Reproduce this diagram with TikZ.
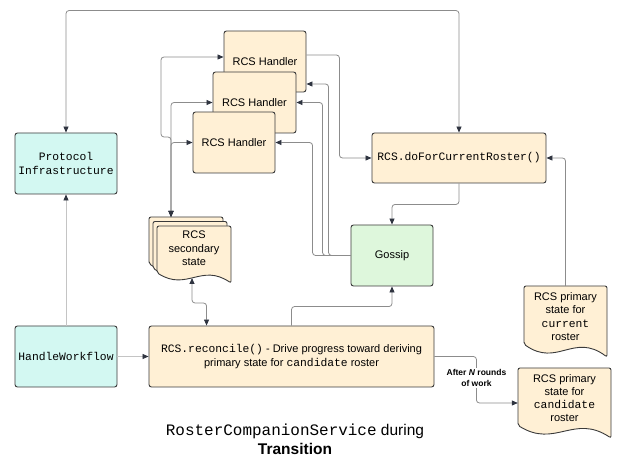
\documentclass[tikz,border=0pt]{standalone}
\usepackage{fontspec}
\setmainfont{Liberation Sans}
\setmonofont[Scale=1.03]{Liberation Mono}
\usetikzlibrary{arrows.meta,calc}
\definecolor{boxline}{HTML}{3A3A3A}
\definecolor{yel}{HTML}{FFF0D5}
\definecolor{cya}{HTML}{D3F8F2}
\definecolor{grn}{HTML}{DEF7DC}
\definecolor{conncol}{HTML}{8C8C8C}
\definecolor{lightconn}{HTML}{C4C4C4}
\definecolor{tipcol}{HTML}{2F3440}
\newcommand{\docshape}[5][]{%
  \draw[docline,#1] (#2,{#3+0.82*(#5-#3)}) -- (#2,#3) -- (#4,#3) -- (#4,#5)
    .. controls ({#2+0.6*(#4-#2)},{#3+0.65*(#5-#3)}) and ({#2+0.4*(#4-#2)},{#3+1.15*(#5-#3)}) .. (#2,{#3+0.82*(#5-#3)}) -- cycle;}
\tikzset{rtip/.tip={Triangle[length=6pt,width=5pt,color=tipcol]}}
\begin{document}
\begin{tikzpicture}[x=1pt,y=-1pt,
  box/.style={draw=boxline, line width=0.9pt, rounded corners=2.5pt, inner sep=2pt, align=center, font=\fontsize{11}{13.5}\selectfont},
  ybox/.style={box, fill=yel},
  cbox/.style={box, fill=cya},
  gbox/.style={box, fill=grn},
  docline/.style={draw=boxline, line width=0.9pt, fill=yel, rounded corners=2pt},
  doctext/.style={draw=none, inner sep=0pt, align=center, font=\fontsize{11}{13.2}\selectfont},
  conn/.style={draw=conncol, line width=0.8pt, rounded corners=3pt, -rtip},
  lconn/.style={conn, draw=lightconn},
  both/.style={rtip-rtip},
  lbl/.style={fill=white, inner sep=1pt, align=center, font=\bfseries\fontsize{8.5}{11}\selectfont},
  title/.style={align=center, font=\fontsize{15.5}{19}\selectfont}
]
\useasboundingbox (0,0) rectangle (625,462);

% documents
\docshape{524}{286}{607}{357}
\docshape{518}{368}{611}{438}
\docshape{149}{217}{223}{274}
\docshape{153}{221.5}{227}{278.5}
\docshape{157}{226}{231}{283}

% boxes
\node[ybox, minimum width=82pt, minimum height=61pt] (h1) at (265,61.5) {RCS Handler};
\node[ybox, minimum width=83pt, minimum height=61pt] (h2) at (254.5,102.5) {RCS Handler};
\node[ybox, minimum width=82pt, minimum height=61pt] (h3) at (234,142.5) {RCS Handler};
\node[cbox, minimum width=102pt, minimum height=61pt] (proto) at (66,163.5) {\texttt{Protocol}\\\texttt{Infrastructure}};
\node[ybox, minimum width=174pt, minimum height=50pt] (dofor) at (459,158) {\texttt{RCS.doForCurrentRoster()}};
\node[gbox, minimum width=82pt, minimum height=61pt] (gossip) at (392,255.5) {Gossip};
\node[cbox, minimum width=102pt, minimum height=61pt] (hw) at (66,356.5) {\texttt{HandleWorkflow}};
\node[ybox, minimum width=285pt, minimum height=61pt, font=\fontsize{11}{14}\selectfont] (rec) at (291.5,356.5) {\texttt{RCS.reconcile()} - Drive progress toward deriving\\primary state for \texttt{candidate} roster};

% document texts
\node[doctext, minimum width=83pt, minimum height=61pt] (cur) at (565.5,316.5) {RCS primary\\state for\\\texttt{current}\\roster};
\node[doctext, minimum width=93pt, minimum height=60pt] (cand) at (564.5,398) {RCS primary\\state for\\\texttt{candidate}\\roster};
\node[doctext, font=\fontsize{11}{13.5}\selectfont] (sec) at (194,248.5) {RCS\\secondary\\state};
\coordinate (sect) at (171,217);
\coordinate (secb) at (192,278);

% connectors
\draw[conn, both] (proto.north) -- ++(0,-122) -| (dofor.north);
\draw[lconn] (hw.north) -- (proto.south);
\draw[lconn] (hw.east) -- (rec.west);
\draw[conn] (rec.north) -- ++(0,-19) -| (gossip.south);
\draw[conn, both] (secb) -- ++(0,25) -| ($(rec.north west)+(58,0)$);
\draw[conn] (rec.east) -- ++(42,0) |- ([yshift=-5pt]cand.west);
\node[lbl] (lab) at ($(rec.east)+(42,21.5)$) {After \textit{N} rounds\\of work};

\draw[conn, both] (sect) -- ++(0,-80) -- ++(-10,0) |- ([yshift=4.5pt]h1.west);
\draw[conn, both] (sect) |- (h2.west);
\draw[conn, both] (sect) |- (h3.west);

\draw[conn] ([yshift=6.5pt]h1.east) -- ++(33,0) |- (dofor.west);
\draw[conn] (gossip.west) -- ++(-22,0) |- ([yshift=-22.5pt]h1.east);
\draw[conn] (gossip.west) -- ++(-28,0) |- (h2.east);
\draw[conn] (gossip.west) -- ++(-38,0) |- (h3.east);
\draw[conn] (dofor.south) -- ++(0,21) -| (gossip.north);
\draw[conn] (cur.north) |- (dofor.east);

% title
\node[title] (ttl) at (295,439) {\texttt{RosterCompanionService} during\\\textbf{Transition}};
\end{tikzpicture}
\end{document}
